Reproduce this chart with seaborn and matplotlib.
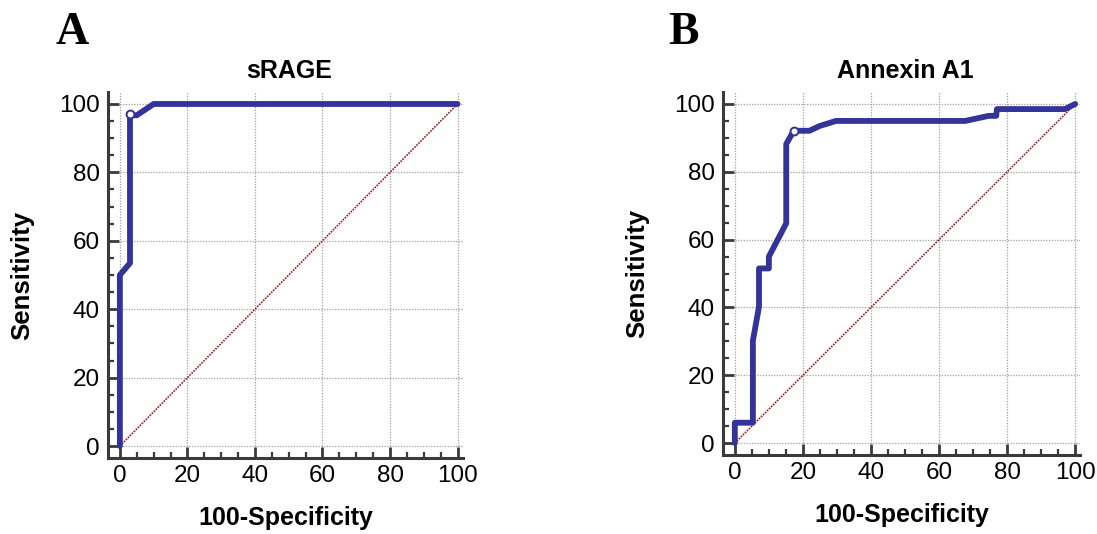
#!/usr/bin/env python3
"""ROC curves for sRAGE (A) and Annexin A1 (B). Saves out.png"""
import numpy as np
import pandas as pd
import matplotlib.pyplot as plt
from matplotlib.ticker import MultipleLocator
import seaborn as sns

sns.set_style('white')
plt.rcParams['font.family'] = ['Liberation Sans', 'DejaVu Sans']
plt.rcParams['text.color'] = 'black'
plt.rcParams['axes.labelcolor'] = 'black'
plt.rcParams['xtick.labelcolor'] = 'black'
plt.rcParams['ytick.labelcolor'] = 'black'

# Panel A: sRAGE (100-specificity, sensitivity)
srage_fpr = [0, 0, 3.0, 3.0, 5.0, 10.0, 100]
srage_tpr = [0, 50.0, 53.5, 96.7, 96.7, 100, 100]
srage_cut = ([2.9], [97.0])

# Panel B: Annexin A1
anx_fpr = [0, 0, 5.3, 5.3, 7.1, 7.1, 10.0, 10.0, 15.1, 15.1, 17.3, 21.9,
           24.9, 29.7, 67.7, 74.6, 76.8, 77.0, 97.0, 100]
anx_tpr = [0, 6.0, 6.0, 30.2, 40.2, 51.5, 51.5, 55.0, 64.8, 88.2, 92.1, 92.1,
           93.5, 95.0, 95.0, 96.5, 96.5, 98.5, 98.5, 100]
anx_cut = ([17.3], [92.1])

diag = [0, 100]
ticks = np.arange(0, 101, 20)

ROC_COLOR = '#333399'
AX_COLOR = '#3a3a3a'

fig = plt.figure(figsize=(10.97, 5.34), dpi=100)

panels = [
    # rect, title, letter, letter x, data
    ([0.0985, 0.1423, 0.3232, 0.6854], 'sRAGE', 'A', 55, srage_fpr, srage_tpr, srage_cut),
    ([0.6590, 0.1481, 0.3258, 0.6794], 'Annexin A1', 'B', 668, anx_fpr, anx_tpr, anx_cut),
]

for rect, title, letter, letter_x, fpr, tpr, cut in panels:
    ax = fig.add_axes(rect)
    xmax, ymax = 101.5, 103.5
    ax.set_xlim(-3.5, xmax)
    ax.set_ylim(-3.5, ymax)

    # dotted grid, starting at 0
    ax.hlines(ticks, 0, xmax, colors='#a0a0a0', linestyles=(0, (1, 1.2)), lw=0.9, zorder=0)
    ax.vlines(ticks, 0, ymax, colors='#a0a0a0', linestyles=(0, (1, 1.2)), lw=0.9, zorder=0)

    # reference diagonal
    sns.lineplot(x=diag, y=diag, ax=ax, color='#9b1b1b', lw=1.2,
                 linestyle=(0, (1, 0.7)), zorder=2)

    # ROC curve
    df = pd.DataFrame({'fpr': fpr, 'tpr': tpr})
    sns.lineplot(data=df, x='fpr', y='tpr', ax=ax, sort=False, estimator=None,
                 color=ROC_COLOR, lw=4.2, zorder=3)
    # optimal cut-off point
    sns.scatterplot(x=cut[0], y=cut[1], ax=ax, s=32, color='white',
                    edgecolor=ROC_COLOR, linewidth=1.4, zorder=5)

    for s in ['top', 'right']:
        ax.spines[s].set_visible(False)
    for s in ['left', 'bottom']:
        ax.spines[s].set_color(AX_COLOR)
        ax.spines[s].set_linewidth(2.2)

    ax.set_xticks(ticks)
    ax.set_yticks(ticks)
    ax.xaxis.set_minor_locator(MultipleLocator(5))
    ax.yaxis.set_minor_locator(MultipleLocator(5))
    ax.tick_params(which='major', direction='in', length=8, width=2,
                   color=AX_COLOR, labelsize=17.5, pad=6, left=True, bottom=True)
    ax.tick_params(which='minor', direction='in', length=4.5, width=1.6,
                   color=AX_COLOR, left=True, bottom=True)
    ax.tick_params(axis='x', pad=5)

    ax.set_xlabel('100-Specificity', fontsize=18, fontweight='bold', labelpad=14)
    ax.set_ylabel('Sensitivity', fontsize=18.5, fontweight='bold', labelpad=18)
    ax.text(50, 1.038, title, transform=ax.get_xaxis_transform(), ha='center',
            va='baseline', fontsize=18, fontweight='bold')

    fig.text(letter_x / 1097, 1 - 44 / 534, letter,
             family=['Liberation Serif', 'DejaVu Serif'], fontweight='bold',
             fontsize=33, ha='left', va='baseline')

plt.savefig('out.png', dpi=100)
print('Saved out.png')
